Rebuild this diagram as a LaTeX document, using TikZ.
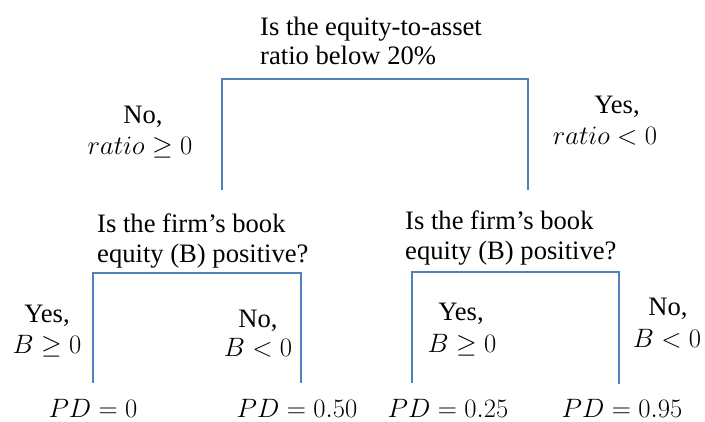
\documentclass[tikz,border=0pt]{standalone}
\usepackage{fix-cm}
\usepackage{fontspec}
\setmainfont{Liberation Serif}
\definecolor{linkblue}{RGB}{79,129,189}
\begin{document}
\begin{tikzpicture}[x=1pt,y=-1pt,
  txt/.style={inner sep=0pt,font=\fontsize{26.6}{30}\selectfont},
  qline/.style={txt,anchor=base west},
  lbl/.style={txt,anchor=base},
  branch/.style={draw=linkblue,line width=1.6pt,line join=miter}]
\useasboundingbox[fill=white] (0,0) rectangle (705,421);

% questions
\node[qline] (q1a) at (260,35) {Is the equity-to-asset};
\node[qline] (q1b) at (260,64) {ratio below 20\%};
\node[qline] (q2a) at (97,232) {Is the firm’s book};
\node[qline] (q2b) at (97,262) {equity (B) positive?};
\node[qline] (q3a) at (405,229) {Is the firm’s book};
\node[qline] (q3b) at (405,259) {equity (B) positive?};

% top branch labels
\node[lbl] (n1a) at (143,123) {No,};
\node[lbl] (n1b) at (140,154) {$ratio \geq 0$};
\node[lbl] (y1a) at (617,113) {Yes,};
\node[lbl] (y1b) at (605,144) {$ratio < 0$};

% lower branch labels
\node[lbl] (y2a) at (47,322) {Yes,};
\node[lbl] (y2b) at (47,353) {$B \geq 0$};
\node[lbl] (n2a) at (258,327) {No,};
\node[lbl] (n2b) at (258,356) {$B < 0$};
\node[lbl] (y3a) at (461,320) {Yes,};
\node[lbl] (y3b) at (462,352) {$B \geq 0$};
\node[lbl] (n3a) at (668,315) {No,};
\node[lbl] (n3b) at (667,347) {$B < 0$};

% leaves
\node[lbl] (l1) at (93,417) {$PD = 0$};
\node[lbl] (l2) at (297,417) {$PD = 0.50$};
\node[lbl] (l3) at (448,417) {$PD = 0.25$};
\node[lbl] (l4) at (622,417) {$PD = 0.95$};

% bracket corners
\coordinate (t1) at (222,190);
\coordinate (t2) at (222,79);
\coordinate (t3) at (528,79);
\coordinate (t4) at (528,190);
\coordinate (a1) at (93,383);
\coordinate (a2) at (93,273);
\coordinate (a3) at (301,273);
\coordinate (a4) at (301,383);
\coordinate (b1) at (412,383);
\coordinate (b2) at (412,272);
\coordinate (b3) at (619,272);
\coordinate (b4) at (619,384);

\draw[branch] (t1) -- (t2) -- (t3) -- (t4);
\draw[branch] (a1) -- (a2) -- (a3) -- (a4);
\draw[branch] (b1) -- (b2) -- (b3) -- (b4);
\end{tikzpicture}
\end{document}
